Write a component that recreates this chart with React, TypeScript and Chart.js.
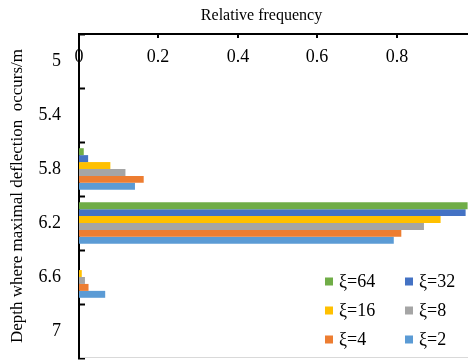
import React, { useEffect, useRef } from "react";
import { Chart, registerables } from "chart.js";

Chart.register(...registerables);

const depthLabels = ["5", "5.4", "5.8", "6.2", "6.6", "7"];
const seriesNames = ["ξ=64", "ξ=32", "ξ=16", "ξ=8", "ξ=4", "ξ=2"];
const xi64 = [0, 0, 0.012, 0.979, 0, 0];
const xi32 = [0, 0, 0.023, 0.974, 0, 0];
const xi16 = [0, 0, 0.079, 0.911, 0.007, 0];
const xi8 = [0, 0, 0.117, 0.869, 0.015, 0];
const xi4 = [0, 0, 0.163, 0.812, 0.024, 0];
const xi2 = [0, 0, 0.141, 0.793, 0.066, 0];
const seriesValues = [xi64, xi32, xi16, xi8, xi4, xi2];
const seriesColors = ["#70AD47", "#4472C4", "#FFC000", "#A5A5A5", "#ED7D31", "#5B9BD5"];

const FONT = '"Liberation Serif", "Times New Roman", serif';

// Draws the top axis' inward tick marks and tick labels (inside the plot, as in the original)
const innerAxis = {
  id: "innerAxis",
  afterDraw(chart: any) {
    const { ctx, chartArea } = chart;
    const xs = chart.scales.x;
    ctx.save();
    ctx.strokeStyle = "#000";
    ctx.lineWidth = 2;
    ctx.fillStyle = "#000";
    ctx.font = `18px ${FONT}`;
    ctx.textAlign = "center";
    ctx.textBaseline = "middle";
    xs.ticks.forEach((t: any) => {
      const px = Math.round(xs.getPixelForValue(t.value));
      ctx.beginPath();
      ctx.moveTo(px, chartArea.top - 1);
      ctx.lineTo(px, chartArea.top + 4);
      ctx.stroke();
      const label = t.label !== undefined && t.label !== "" ? t.label : String(t.value);
      ctx.fillText(label, px, chartArea.top + 23);
    });
    ctx.restore();
  },
};

const innerLegend = {
  id: "innerLegend",
  afterDraw(chart: any) {
    const { ctx, chartArea } = chart;
    ctx.save();
    ctx.strokeStyle = "#d9d9d9";
    ctx.lineWidth = 1;
    ctx.beginPath();
    ctx.moveTo(chartArea.left + 1, chartArea.bottom - 0.5);
    ctx.lineTo(chartArea.right, chartArea.bottom - 0.5);
    ctx.stroke();
    ctx.font = `18px ${FONT}`;
    ctx.textBaseline = "middle";
    ctx.textAlign = "left";
    chart.data.datasets.forEach((ds: any, i: number) => {
      const col = i % 2;
      const row = Math.floor(i / 2);
      const x = chartArea.left + 246 + col * 80;
      const y = chartArea.top + 247.5 + row * 29;
      ctx.fillStyle = ds.backgroundColor;
      ctx.fillRect(x, y - 4, 8, 8);
      ctx.fillStyle = "#000";
      ctx.fillText(ds.label, x + 14, y + 1);
    });
    ctx.restore();
  },
};

export default function App() {
  const ref = useRef<HTMLCanvasElement>(null);
  useEffect(() => {
    if (!ref.current) return;
    const chart = new Chart(ref.current, {
      type: "bar",
      data: {
        labels: depthLabels,
        datasets: seriesNames.map((name, i) => ({
          label: name,
          data: seriesValues[i],
          backgroundColor: seriesColors[i],
          borderWidth: 0,
          categoryPercentage: 0.77,
          barPercentage: 1.0,
        })),
      },
      options: {
        indexAxis: "y",
        animation: false,
        responsive: false,
        layout: { padding: { left: 7, top: 6, right: 0, bottom: 6 } },
        plugins: { legend: { display: false }, tooltip: { enabled: false } },
        scales: {
          x: {
            type: "linear",
            position: "top",
            min: 0,
            max: 0.98,
            border: { display: true, color: "#000", width: 2 },
            grid: { display: false, drawOnChartArea: false, drawTicks: false },
            ticks: {
              display: false,
              stepSize: 0.2,
              includeBounds: false,
              maxRotation: 0,
              autoSkip: false,
            },
            title: {
              display: true,
              text: "Relative frequency\u00a0\u00a0\u00a0\u00a0\u00a0\u00a0",
              color: "#000",
              font: { family: FONT, size: 16 },
              padding: { top: 0, bottom: 0 },
            },
            afterFit: (s: any) => {
              s.height = 28;
              s.paddingLeft = 0;
              s.paddingRight = 0;
            },
          },
          y: {
            type: "category",
            position: "left",
            offset: true,
            border: { display: true, color: "#000", width: 2 },
            grid: {
              offset: true,
              drawOnChartArea: false,
              drawTicks: true,
              tickLength: -6,
              tickWidth: 2,
              tickColor: "#000",
            },
            ticks: {
              padding: 24,
              color: "#000",
              font: { family: FONT, size: 18 },
            },
            title: {
              display: true,
              text: "Depth where maximal deflection  occurs/m",
              color: "#000",
              font: { family: FONT, size: 17 },
              padding: { top: 0, bottom: 0 },
            },
            afterFit: (s: any) => {
              s.width = 72;
              s.paddingTop = 0;
              s.paddingBottom = 0;
            },
          },
        },
      },
      plugins: [innerAxis, innerLegend],
    });
    return () => chart.destroy();
  }, []);
  return (
    <div style={{ position: "absolute", left: 0, top: 0, width: 468, height: 364, background: "#fff" }}>
      <canvas ref={ref} width={468} height={364} style={{ display: "block" }} />
    </div>
  );
}
